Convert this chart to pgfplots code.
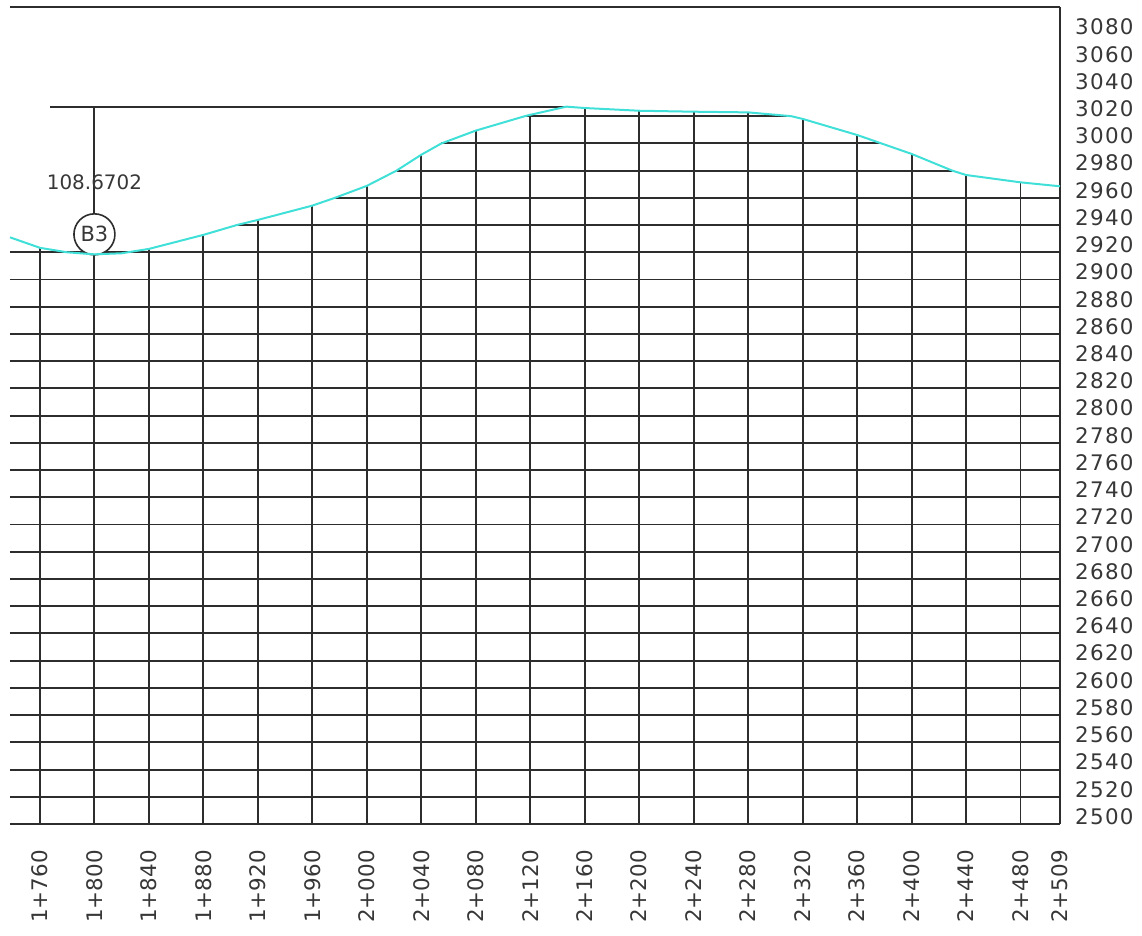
\documentclass[border=0pt]{standalone}
\usepackage{fontspec}
\setmainfont{DejaVu Sans}
\usepackage{pgfplots}
\pgfplotsset{compat=1.18}
\definecolor{prof}{RGB}{64,224,216}
\definecolor{gridc}{RGB}{45,45,45}
\definecolor{txt}{RGB}{55,55,55}
\begin{document}
\begin{tikzpicture}
\begin{axis}[
  x=1.3619bp, y=1.3612bp,
  xmin=1738, xmax=2509, ymin=2500, ymax=3100,
  axis line style={draw=none},
  major tick length=0pt,
  clip=false,
  unbounded coords=jump,
  xtick={1760,1800,1840,1880,1920,1960,2000,2040,2080,2120,2160,2200,2240,2280,2320,2360,2400,2440,2480,2509},
  xticklabels={1+760,1+800,1+840,1+880,1+920,1+960,2+000,2+040,2+080,2+120,2+160,2+200,2+240,2+280,2+320,2+360,2+400,2+440,2+480,2+509},
  xticklabel style={rotate=90, anchor=east, inner sep=0pt, font=\fontsize{21.5}{21.5}\selectfont, text=txt},
  xticklabel shift=26bp,
  ytick={2500,2520,...,3080},
  yticklabels={2500,2520,2540,2560,2580,2600,2620,2640,2660,2680,2700,2720,2740,2760,2780,2800,2820,2840,2860,2880,2900,2920,2940,2960,2980,3000,3020,3040,3060,3080},
  yticklabel pos=right,
  yticklabel style={anchor=west, inner sep=0pt, yshift=7.5bp, font=\fontsize{21.5}{21.5}\selectfont\addfontfeature{LetterSpace=6}, text=txt},
  yticklabel shift=15bp,
]
% horizontal grid lines
\addplot[gridc, line width=1.9bp, forget plot] coordinates {
(1738,2500)(2509,2500)(2509,nan)
(1738,2520)(2509,2520)(2509,nan)
(1738,2540)(2509,2540)(2509,nan)
(1738,2560)(2509,2560)(2509,nan)
(1738,2580)(2509,2580)(2509,nan)
(1738,2600)(2509,2600)(2509,nan)
(1738,2620)(2509,2620)(2509,nan)
(1738,2640)(2509,2640)(2509,nan)
(1738,2660)(2509,2660)(2509,nan)
(1738,2680)(2509,2680)(2509,nan)
(1738,2700)(2509,2700)(2509,nan)
(1738,2720)(2509,2720)(2509,nan)
(1738,2740)(2509,2740)(2509,nan)
(1738,2760)(2509,2760)(2509,nan)
(1738,2780)(2509,2780)(2509,nan)
(1738,2800)(2509,2800)(2509,nan)
(1738,2820)(2509,2820)(2509,nan)
(1738,2840)(2509,2840)(2509,nan)
(1738,2860)(2509,2860)(2509,nan)
(1738,2880)(2509,2880)(2509,nan)
(1738,2900)(2509,2900)(2509,nan)
(1738,2920)(2509,2920)(2509,nan)
(1904.4,2940)(2509,2940)(2509,nan)
(1976.5,2960)(2509,2960)(2509,nan)
(2021.8,2980)(2429.9,2980)(2429.9,nan)
(2054.8,3000)(2377.8,3000)(2377.8,nan)
(2116,3020)(2311.7,3020)(2311.7,nan)
(1738,3100)(2509,3100)(2509,nan)
};
% vertical station lines
\addplot[gridc, line width=1.9bp, forget plot] coordinates {
(1760,2500)(1760,2923.3)(1760,nan)
(1800,2500)(1800,3027)(1800,nan)
(1840,2500)(1840,2922.5)(1840,nan)
(1880,2500)(1880,2932.8)(1880,nan)
(1920,2500)(1920,2943.8)(1920,nan)
(1960,2500)(1960,2954.3)(1960,nan)
(2000,2500)(2000,2968.8)(2000,nan)
(2040,2500)(2040,2991.7)(2040,nan)
(2080,2500)(2080,3009.4)(2080,nan)
(2120,2500)(2120,3021)(2120,nan)
(2160,2500)(2160,3026)(2160,nan)
(2200,2500)(2200,3024)(2200,nan)
(2240,2500)(2240,3023.3)(2240,nan)
(2280,2500)(2280,3022.8)(2280,nan)
(2320,2500)(2320,3018)(2320,nan)
(2360,2500)(2360,3006.2)(2360,nan)
(2400,2500)(2400,2992.3)(2400,nan)
(2440,2500)(2440,2976.8)(2440,nan)
(2480,2500)(2480,2971.4)(2480,nan)
(2509,2500)(2509,3100)(2509,nan)
};
% marker line to summit
\addplot[gridc, line width=1.9bp, forget plot] coordinates {(1767.3,3027)(2146.6,3027)};
% B3 marker
\node[draw=gridc, circle, fill=white, minimum size=41bp, inner sep=0pt, line width=1.6bp,
  font=\fontsize{21}{21}\selectfont, text=txt] at (axis cs:1800,2933.2) {B3};
% ground profile
\addplot[prof, line width=2bp, forget plot] coordinates {
(1738,2931.0)(1760,2923.3)(1780,2920.0)(1800,2918.5)(1820,2919.3)(1840,2922.5)
(1880,2932.8)(1904.4,2940)(1920,2943.8)(1960,2954.3)(1976.5,2960)(2000,2968.8)
(2021.8,2980)(2040,2991.7)(2054.8,3000)(2080,3009.4)(2116,3020)(2120,3021)
(2146.6,3027)(2160,3026)(2200,3024)(2240,3023.3)(2280,3022.8)(2311.7,3020)
(2320,3018)(2360,3006.2)(2377.8,3000)(2400,2992.3)(2429.9,2980)(2440,2976.8)
(2480,2971.4)(2509,2968.5)
};
\node[font=\fontsize{20}{20}\selectfont, text=txt, inner sep=0pt] at (axis cs:1800,2971.2) {108.6702};
\coordinate (nw) at (axis cs:1738,3100);
\coordinate (se) at (axis cs:2509,2500);
\end{axis}
\path ([shift={(-10bp,7.3bp)}]nw) rectangle ([shift={(82bp,-111bp)}]se);
\end{tikzpicture}
\end{document}
